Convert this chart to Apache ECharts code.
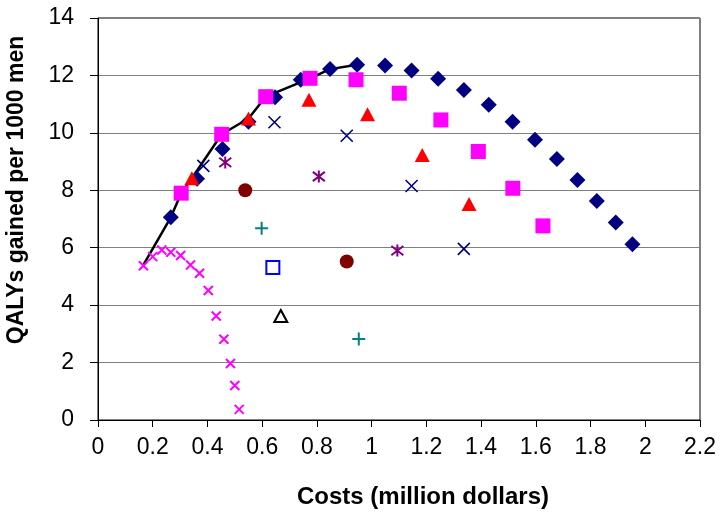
<!DOCTYPE html>
<html>
<head>
<meta charset="utf-8">
<script src="https://cdn.jsdelivr.net/npm/echarts@6/dist/echarts.min.js"></script>
<style>
  html, body { margin: 0; padding: 0; background: #fff; }
  #chart { width: 720px; height: 513px; }
</style>
</head>
<body>
<div id="chart"></div>
<script>
// Strategy results: cost (million dollars) vs QALYs gained per 1000 men
const diamondX = [0.266, 0.362, 0.455, 0.55, 0.647, 0.741, 0.848, 0.947, 1.049, 1.146, 1.243, 1.337, 1.428, 1.515, 1.597, 1.677, 1.752, 1.823, 1.892, 1.953];
const diamondY = [7.06, 8.40, 9.44, 10.39, 11.24, 11.85, 12.22, 12.37, 12.35, 12.17, 11.88, 11.49, 10.98, 10.39, 9.76, 9.09, 8.36, 7.63, 6.88, 6.12];

const squareX = [0.304, 0.452, 0.613, 0.775, 0.943, 1.101, 1.253, 1.39, 1.516, 1.626];
const squareY = [7.9, 9.95, 11.26, 11.9, 11.85, 11.38, 10.45, 9.35, 8.07, 6.76];

const triangleX = [0.343, 0.55, 0.771, 0.985, 1.185, 1.356];
const triangleY = [8.42, 10.5, 11.15, 10.65, 9.23, 7.52];

const crossX = [0.385, 0.645, 0.909, 1.146, 1.337];
const crossY = [8.85, 10.37, 9.9, 8.15, 5.96];

const starX = [0.465, 0.807, 1.094];
const starY = [8.97, 8.48, 5.9];

const circleX = [0.538, 0.909];
const circleY = [8.0, 5.52];

const plusX = [0.598, 0.953];
const plusY = [6.68, 2.82];

const openSquareX = [0.639];
const openSquareY = [5.31];

const openTriangleX = [0.668];
const openTriangleY = [3.62];

const smallCrossX = [0.166, 0.2, 0.233, 0.266, 0.302, 0.338, 0.371, 0.403, 0.432, 0.46, 0.484, 0.5, 0.516];
const smallCrossY = [5.37, 5.69, 5.92, 5.84, 5.73, 5.4, 5.11, 4.51, 3.62, 2.81, 1.97, 1.2, 0.37];

// Efficient frontier
const frontierX = [0.166, 0.266, 0.304, 0.343, 0.452, 0.55, 0.613, 0.775, 0.848, 0.947];
const frontierY = [5.4, 7.06, 7.9, 8.42, 9.95, 10.5, 11.26, 11.9, 12.22, 12.37];

const xTicks = [0, 0.2, 0.4, 0.6, 0.8, 1, 1.2, 1.4, 1.6, 1.8, 2, 2.2];
const yTicks = [0, 2, 4, 6, 8, 10, 12, 14];

const pair = (xs, ys) => xs.map((x, i) => [x, ys[i]]);

const CROSS = 'path://M0,0L10,10M10,0L0,10';
const STAR = 'path://M0,0L10,10M10,0L0,10M5,-1.5L5,11.5';
const PLUS = 'path://M5,0L5,10M0,5L10,5';
const FONT = '"Liberation Sans", Arial, sans-serif';

function scatter(data, symbol, size, itemStyle) {
  return { type: 'scatter', data, symbol, symbolSize: size,
    itemStyle: Object.assign({ opacity: 1 }, itemStyle), z: 3, silent: true };
}

const chart = echarts.init(document.getElementById('chart'), null, { renderer: 'canvas' });

chart.setOption({
  animation: false,
  backgroundColor: '#fff',
  textStyle: { fontFamily: FONT },
  grid: { left: 98, top: 18, right: 20, bottom: 93, show: true, borderColor: '#000', borderWidth: 1 },
  xAxis: {
    type: 'value', min: xTicks[0], max: xTicks[xTicks.length - 1], interval: 0.2,
    axisLine: { lineStyle: { color: '#000', width: 1 } },
    axisTick: { show: true, inside: false, length: 7, lineStyle: { color: '#000' } },
    axisLabel: { color: '#000', fontSize: 23, fontFamily: FONT, margin: 16,
      formatter: v => String(Math.round(v * 10) / 10) },
    splitLine: { show: false }
  },
  yAxis: {
    type: 'value', min: yTicks[0], max: yTicks[yTicks.length - 1], interval: 2,
    axisLine: { show: true, lineStyle: { color: '#000', width: 1 } },
    axisTick: { show: true, inside: false, length: 8, lineStyle: { color: '#000' } },
    axisLabel: { color: '#000', fontSize: 23, fontFamily: FONT, margin: 24 },
    splitLine: { show: true, lineStyle: { color: '#808080', width: 1 } }
  },
  graphic: [
    { type: 'text', x: 423, y: 497, style: { text: 'Costs (million dollars)', fontSize: 24, fontWeight: 'bold',
      fontFamily: FONT, fill: '#000', align: 'center', verticalAlign: 'middle' } },
    { type: 'text', x: 17, y: 190, rotation: Math.PI / 2, style: { text: 'QALYs gained per 1000 men', fontSize: 23,
      fontWeight: 'bold', fontFamily: FONT, fill: '#000', align: 'center', verticalAlign: 'middle' } }
  ],
  series: [
    { type: 'line', data: pair(frontierX, frontierY), symbol: 'none', z: 2, silent: true,
      lineStyle: { color: '#000', width: 2.5 } },
    scatter(pair(diamondX, diamondY), 'diamond', 16, { color: '#000080' }),
    scatter(pair(smallCrossX, smallCrossY), CROSS, 9, { color: 'transparent', borderColor: '#FF00FF', borderWidth: 2 }),
    scatter(pair(crossX, crossY), CROSS, 12, { color: 'transparent', borderColor: '#000080', borderWidth: 1.6 }),
    scatter(pair(starX, starY), STAR, 12, { color: 'transparent', borderColor: '#800080', borderWidth: 2 }),
    scatter(pair(plusX, plusY), PLUS, 13, { color: 'transparent', borderColor: '#008080', borderWidth: 2 }),
    scatter(pair(circleX, circleY), 'circle', 14, { color: '#800000' }),
    scatter(pair(openSquareX, openSquareY), 'rect', 13, { color: '#fff', borderColor: '#0000FF', borderWidth: 2 }),
    scatter(pair(openTriangleX, openTriangleY), 'triangle', [13, 12], { color: '#fff', borderColor: '#000', borderWidth: 2 }),
    scatter(pair(triangleX, triangleY), 'triangle', [15, 14], { color: '#FF0000' }),
    scatter(pair(squareX, squareY), 'rect', 15, { color: '#FF00FF' })
  ]
});
</script>
</body>
</html>
